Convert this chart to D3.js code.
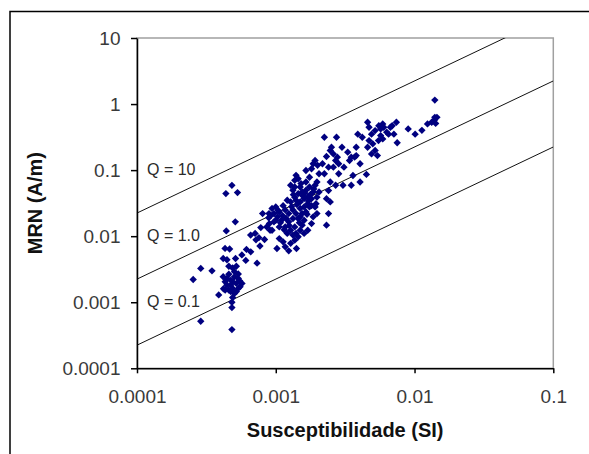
<!DOCTYPE html>
<html lang="pt">
<head>
  <meta charset="UTF-8">
  <title>MRN x Susceptibilidade</title>
  <script src="https://d3js.org/d3.v7.min.js"></script>
  <style type="text/css">
    body { margin: 0; background: #fff; }
    svg { display: block; font-family: "Liberation Sans", Arial, sans-serif; }
    .tick text { fill: #3a3a3a; font-size: 19px; }
    .qlabel { fill: #2a2a2a; font-size: 16px; }
    .title { font-weight: bold; font-size: 20px; fill: #111; }
  </style>
</head>
<body>
<svg id="chart" width="589" height="454"></svg>
<script>
  // eixos
  const xTicks = [0.0001, 0.001, 0.01, 0.1]
  const xTickLabels = ['0.0001', '0.001', '0.01', '0.1']
  const yTicks = [0.0001, 0.001, 0.01, 0.1, 1, 10]
  const yTickLabels = ['0.0001', '0.001', '0.01', '0.1', '1', '10']

  // retas de razao de Koenigsberger
  const qValues = [10, 1.0, 0.1]
  const qLabels = ['Q = 10', 'Q = 1.0', 'Q = 0.1']
  const fieldH = 22.4 // A/m

  // amostras: [susceptibilidade (SI), MRN (A/m)]
  const samples = [
    [0.000254, 0.00221], [0.000288, 0.00325], [0.000347, 0.00299], [0.000288, 0.000516],
    [0.000388, 0.00129], [0.000483, 0.000386], [0.000483, 0.00083], [0.000483, 0.001],
    [0.000437, 0.0441], [0.000483, 0.0589], [0.00053, 0.0457], [0.000511, 0.0165], [0.00044, 0.012],
    [0.000431, 0.00652], [0.000465, 0.0064], [0.000418, 0.0046], [0.000445, 0.0044],
    [0.000513, 0.0046], [0.000615, 0.0063], [0.00057, 0.0052], [0.000608, 0.0043], [0.000733, 0.0039],
    [0.000459, 0.0035], [0.000489, 0.0033], [0.00052, 0.0035],
    [0.000418, 0.00243], [0.000445, 0.00229], [0.000474, 0.00216], [0.000504, 0.00243],
    [0.000537, 0.00229], [0.000432, 0.00204], [0.000474, 0.00182], [0.00052, 0.00193],
    [0.000571, 0.00193], [0.000489, 0.00162], [0.000459, 0.00153], [0.00052, 0.00145],
    [0.000504, 0.00136], [0.000432, 0.00153], [0.000553, 0.00172], [0.000445, 0.00182],
    [0.000537, 0.00162], [0.000489, 0.00204], [0.000459, 0.00265], [0.000504, 0.0029],
    [0.000537, 0.00268], [0.00055, 0.0021], [0.000474, 0.00145], [0.000489, 0.00118], [0.00042, 0.0016],
    [0.000659, 0.0104], [0.00071, 0.011], [0.000756, 0.0095], [0.00083, 0.0089], [0.000769, 0.0071],
    [0.000804, 0.022], [0.0009, 0.0155], [0.000894, 0.022], [0.00094, 0.0262], [0.001, 0.0277],
    [0.00097, 0.022], [0.00103, 0.0196], [0.00106, 0.0233], [0.001, 0.0174], [0.0011, 0.0174],
    [0.00091, 0.0123], [0.00102, 0.0065], [0.00106, 0.0092], [0.00113, 0.0082], [0.00117, 0.0069],
    [0.00124, 0.006], [0.00121, 0.011], [0.00117, 0.0138], [0.00128, 0.0123], [0.00137, 0.0138],
    [0.00133, 0.0104], [0.0014, 0.011], [0.00137, 0.0087], [0.00128, 0.0078], [0.00141, 0.0065],
    [0.00145, 0.0098], [0.0015, 0.0123], [0.00155, 0.0147], [0.0016, 0.0174], [0.0015, 0.0196],
    [0.0016, 0.011], [0.0017, 0.0123], [0.00181, 0.0155], [0.00186, 0.0196], [0.00198, 0.022],
    [0.00192, 0.0277], [0.00181, 0.029], [0.0017, 0.031], [0.0016, 0.0277], [0.0015, 0.0262],
    [0.0014, 0.022], [0.00133, 0.025], [0.00124, 0.022], [0.00117, 0.025], [0.00113, 0.029],
    [0.00121, 0.035], [0.00128, 0.033], [0.00137, 0.039], [0.00145, 0.044], [0.00155, 0.0467],
    [0.00165, 0.0495], [0.00175, 0.0556], [0.00186, 0.0467], [0.00198, 0.039], [0.00192, 0.059],
    [0.0017, 0.039], [0.00181, 0.037], [0.0016, 0.037], [0.0015, 0.033], [0.0014, 0.035],
    [0.00133, 0.0495], [0.00128, 0.059], [0.00137, 0.07], [0.0014, 0.0834], [0.00145, 0.074],
    [0.00137, 0.0556], [0.0015, 0.0556], [0.00165, 0.066], [0.00175, 0.078], [0.00165, 0.0988],
    [0.00181, 0.105], [0.00192, 0.14], [0.00186, 0.125], [0.002, 0.118], [0.00205, 0.088],
    [0.00198, 0.066], [0.00205, 0.0467], [0.00175, 0.0277], [0.00165, 0.0233], [0.00155, 0.022],
    [0.00145, 0.0185], [0.00133, 0.0185], [0.00124, 0.0165], [0.00106, 0.0138], [0.00094, 0.0123],
    [0.00086, 0.0138], [0.00097, 0.0165], [0.00089, 0.019], [0.00112, 0.0205], [0.00104, 0.0245],
    [0.00119, 0.0185], [0.00125, 0.0145], [0.00066, 0.0058], [0.00072, 0.0088], [0.00078, 0.0135],
    [0.00108, 0.016], [0.00115, 0.0125], [0.00142, 0.03], [0.00156, 0.041], [0.00172, 0.034],
    [0.00188, 0.052], [0.0013, 0.028], [0.00148, 0.016], [0.00162, 0.045], [0.00178, 0.043],
    [0.00134, 0.0425], [0.00152, 0.0625], [0.00168, 0.0215], [0.00195, 0.031], [0.00092, 0.0205],
    [0.00224, 0.315], [0.00274, 0.315], [0.00247, 0.198], [0.00232, 0.161], [0.00252, 0.222],
    [0.0026, 0.176], [0.00278, 0.157], [0.003, 0.222], [0.0031, 0.111], [0.00284, 0.088],
    [0.0034, 0.14], [0.0035, 0.157], [0.0037, 0.157], [0.0038, 0.166], [0.00405, 0.125],
    [0.0039, 0.35], [0.0042, 0.315], [0.0036, 0.083], [0.0035, 0.059], [0.00305, 0.059],
    [0.0027, 0.059], [0.00247, 0.066], [0.0024, 0.049], [0.00232, 0.037], [0.00247, 0.033],
    [0.0024, 0.022], [0.00232, 0.0147], [0.00405, 0.066], [0.0045, 0.086], [0.00224, 0.088],
    [0.00217, 0.125], [0.0024, 0.111], [0.0027, 0.14], [0.00284, 0.125], [0.0026, 0.111],
    [0.0033, 0.187], [0.0038, 0.222],
    [0.00459, 0.531], [0.0047, 0.445], [0.0049, 0.35], [0.0047, 0.28], [0.00459, 0.222],
    [0.0049, 0.176], [0.0052, 0.198], [0.0054, 0.166], [0.005, 0.25], [0.0052, 0.397],
    [0.00553, 0.47], [0.0057, 0.42], [0.0059, 0.5], [0.006, 0.445], [0.0057, 0.333],
    [0.0055, 0.28], [0.0059, 0.297], [0.0063, 0.375], [0.0065, 0.35], [0.0067, 0.445],
    [0.0071, 0.35], [0.0069, 0.47], [0.0074, 0.531], [0.0075, 0.26], [0.009, 0.42],
    [0.0101, 0.35], [0.0113, 0.4], [0.0124, 0.5], [0.0133, 0.531], [0.0139, 0.575],
    [0.014, 1.15], [0.0142, 0.51], [0.0145, 0.63], [0.014, 0.63]
  ]

  const svg = d3.select('#chart')
  const plotLeft = 137, plotRight = 553.3, plotTop = 38, plotBottom = 368.3

  // moldura externa
  svg.append('rect')
    .attr('x', 10).attr('y', 11.5)
    .attr('width', 600).attr('height', 460)
    .attr('fill', 'none').attr('stroke', '#000').attr('stroke-width', 1.5)

  const x = d3.scaleLog().domain([1e-4, 1e-1]).range([plotLeft, plotRight])
  const y = d3.scaleLog().domain([1e-4, 10]).range([plotBottom, plotTop])

  svg.append('rect')
    .attr('x', plotLeft).attr('y', plotTop)
    .attr('width', plotRight - plotLeft).attr('height', plotBottom - plotTop)
    .attr('fill', 'none').attr('stroke', '#a0a0a0').attr('stroke-width', 1.5)

  svg.append('clipPath').attr('id', 'plot')
    .append('rect')
    .attr('x', plotLeft).attr('y', plotTop)
    .attr('width', plotRight - plotLeft).attr('height', plotBottom - plotTop)

  // retas Q
  const qg = svg.append('g').attr('clip-path', 'url(#plot)')
  qValues.forEach(q => {
    qg.append('line')
      .attr('x1', x(1e-4)).attr('y1', y(q * fieldH * 1e-4))
      .attr('x2', x(1e-1)).attr('y2', y(q * fieldH * 1e-1))
      .attr('stroke', '#111').attr('stroke-width', 1)
  })
  svg.selectAll('.qlabel')
    .data(qValues)
    .enter().append('text')
    .attr('class', 'qlabel')
    .attr('x', plotLeft + 10)
    .attr('y', q => y(q / 100) + 4.5)
    .text((q, i) => qLabels[i])

  // pontos
  svg.append('g')
    .selectAll('path')
    .data(samples)
    .enter().append('path')
    .attr('d', d3.symbol(d3.symbolSquare, 27))
    .attr('transform', d => `translate(${x(d[0])},${y(d[1])}) rotate(45)`)
    .attr('fill', '#000080')

  // eixo x
  const xAxis = svg.append('g')
    .attr('transform', `translate(0,${plotBottom})`)
    .call(d3.axisBottom(x).tickValues(xTicks)
      .tickFormat((d, i) => xTickLabels[i])
      .tickSize(5).tickSizeOuter(0).tickPadding(16))
  xAxis.select('.domain').attr('stroke', '#000').attr('stroke-width', 1.5)
  xAxis.selectAll('.tick line').attr('stroke', '#000').attr('stroke-width', 1.5)
  xAxis.selectAll('.tick text').attr('font-size', 19).attr('font-family', null)

  // eixo y
  const yAxis = svg.append('g')
    .attr('transform', `translate(${plotLeft},0)`)
    .call(d3.axisLeft(y).tickValues(yTicks)
      .tickFormat((d, i) => yTickLabels[i])
      .tickSize(6).tickSizeOuter(0).tickPadding(10.5))
  yAxis.select('.domain').attr('stroke', '#000').attr('stroke-width', 1.5)
  yAxis.selectAll('.tick line').attr('stroke', '#000').attr('stroke-width', 1.5)
  yAxis.selectAll('.tick text').attr('font-size', 19).attr('font-family', null)

  // titulos
  svg.append('text')
    .attr('class', 'title')
    .attr('x', (plotLeft + plotRight) / 2).attr('y', 437)
    .attr('text-anchor', 'middle')
    .text('Susceptibilidade (SI)')

  svg.append('text')
    .attr('class', 'title')
    .attr('transform', `translate(41.5,${(plotTop + plotBottom) / 2}) rotate(-90)`)
    .attr('text-anchor', 'middle')
    .text('MRN (A/m)')
</script>
</body>
</html>
